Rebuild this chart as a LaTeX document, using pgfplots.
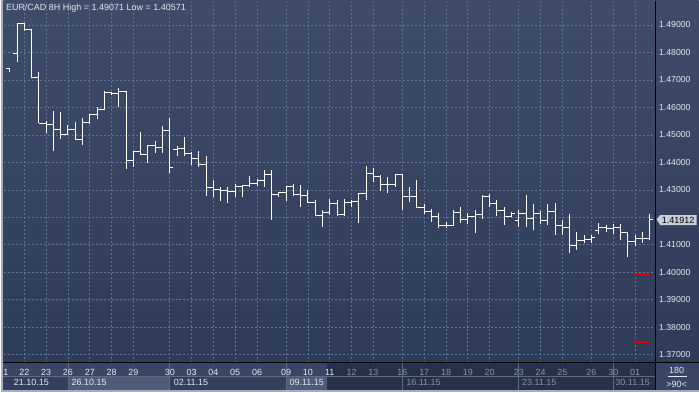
\documentclass[border=0pt]{standalone}
\usepackage{fontspec}
\setmainfont{Liberation Sans}
\usepackage{pgfplots}
\usepackage{pgfplotstable}
\pgfplotsset{compat=1.18}
\definecolor{bgtop}{RGB}{62,76,106}
\definecolor{bgbot}{RGB}{46,60,90}
\definecolor{gridc}{RGB}{98,116,150}
\definecolor{framec}{RGB}{165,174,190}
\definecolor{bandc}{RGB}{56,70,100}
\definecolor{boxa}{RGB}{50,64,92}
\definecolor{boxb}{RGB}{78,92,120}
\definecolor{darkc}{RGB}{38,48,70}
\definecolor{sepc}{RGB}{92,106,132}
\definecolor{dimtext}{RGB}{138,148,168}
\definecolor{labtext}{RGB}{228,232,240}
\definecolor{redm}{RGB}{220,0,0}
\definecolor{pricebox}{RGB}{200,204,212}

\pgfplotstableread{
x o h l c
0 1.47400 1.47425 1.47302 nan
1 1.47971 1.49036 1.47665 1.49036
2 1.49036 1.49071 1.48782 1.48818
3 1.48818 1.48830 1.47084 1.47084
4 1.47084 1.47302 1.45425 1.45425
5 1.45425 1.45509 1.45062 1.45389
6 1.45389 1.45873 1.44418 1.45207
7 1.45207 1.45847 1.44855 1.45025
8 1.45025 1.45364 1.45000 1.45182
9 1.45182 1.45462 1.44818 1.44844
10 1.44844 1.45607 1.44636 1.45462
11 1.45462 1.45764 1.45389 1.45727
12 1.45727 1.46029 1.45571 1.45909
13 1.45909 1.46600 1.45909 1.46553
14 1.46553 1.46575 1.46455 1.46502
15 1.46502 1.46720 1.46029 1.46575
16 1.46575 1.46600 1.43764 1.44065
17 1.44065 1.44418 1.43847 1.44393
18 1.44393 1.45098 1.44273 1.44298
19 1.44298 1.44636 1.43971 1.44611
20 1.44611 1.44782 1.44335 1.44538
21 1.44538 1.45327 1.44335 1.45164
22 1.45164 1.45607 1.43607 1.43818
23 1.44455 1.44600 1.44218 1.44516
24 1.44516 1.44927 1.44218 1.44335
25 1.44335 1.44393 1.43909 1.44153
26 1.44153 1.44429 1.43825 1.43938
27 1.43938 1.44236 1.42782 1.43098
28 1.43098 1.43364 1.42735 1.43000
29 1.43000 1.43098 1.42611 1.42975
30 1.42975 1.43098 1.42538 1.42927
31 1.42927 1.43218 1.42735 1.43120
32 1.43120 1.43182 1.42735 1.43145
33 1.43145 1.43509 1.43098 1.43218
34 1.43218 1.43389 1.43145 1.43327
35 1.43327 1.43727 1.43120 1.43545
36 1.43545 1.43727 1.41909 1.42836
37 1.42836 1.42938 1.42735 1.42902
38 1.42902 1.43145 1.42611 1.43120
39 1.43120 1.43200 1.42782 1.42829
40 1.42829 1.43182 1.42364 1.42800
41 1.42800 1.42982 1.42516 1.42553
42 1.42553 1.42618 1.42036 1.42073
43 1.42073 1.42273 1.41655 1.42182
44 1.42182 1.42673 1.42102 1.42516
45 1.42516 1.42618 1.42036 1.42102
46 1.42102 1.42662 1.42055 1.42527
47 1.42527 1.42636 1.42371 1.42564
48 1.42564 1.42873 1.41811 1.42855
49 1.42855 1.43873 1.42618 1.43582
50 1.43582 1.43789 1.43302 1.43495
51 1.43495 1.43535 1.42949 1.43207
52 1.43207 1.43465 1.42891 1.43182
53 1.43182 1.43582 1.43109 1.43575
54 1.43575 1.43582 1.42273 1.42756
55 1.42756 1.43109 1.42575 1.42756
56 1.42756 1.43364 1.42338 1.42356
57 1.42356 1.42491 1.42120 1.42200
58 1.42200 1.42320 1.41829 1.42029
59 1.42029 1.42142 1.41607 1.41709
60 1.41709 1.41818 1.41618 1.41709
61 1.41709 1.42273 1.41676 1.42182
62 1.42182 1.42382 1.41789 1.41920
63 1.41920 1.42175 1.41753 1.42029
64 1.42029 1.42273 1.41425 1.42091
65 1.42091 1.42818 1.41945 1.42775
66 1.42775 1.42836 1.42364 1.42516
67 1.42516 1.42636 1.42055 1.42258
68 1.42258 1.42371 1.41727 1.42029
69 1.42029 1.42211 1.42007 1.42127
70 1.41884 1.42273 1.41655 1.42127
71 1.42127 1.42818 1.41636 1.41971
72 1.41971 1.42491 1.41545 1.42138
73 1.42138 1.42236 1.41745 1.41884
74 1.41884 1.42469 1.41727 1.42225
75 1.42225 1.42527 1.41364 1.41691
76 1.41691 1.41909 1.41364 1.41644
77 1.41644 1.42127 1.40720 1.40985
78 1.40985 1.41484 1.40818 1.41167
79 1.41167 1.41364 1.41062 1.41207
80 1.41207 1.41364 1.41084 1.41280
81 1.41520 1.41789 1.41400 1.41644
82 1.41644 1.41727 1.41484 1.41607
83 1.41607 1.41764 1.41400 1.41644
84 1.41644 1.41764 1.41182 1.41447
85 1.41447 1.41484 1.40571 1.41120
86 1.41120 1.41364 1.40964 1.41244
87 1.41244 1.41484 1.41084 1.41244
88 1.41244 1.42127 1.41182 1.41912
}\ohlc

\pgfplotstableread{
x y
85.9 1.39955
87.9 1.39955
}\redA
\pgfplotstableread{
x y
85.9 1.37484
87.9 1.37484
}\redB

\begin{document}
\begin{tikzpicture}[x=1pt,y=1pt]
% frame and background
\fill[framec] (0,0) rectangle (699,393);
\shade[top color=bgtop, bottom color=bgbot] (2.5,29) rectangle (699,392);
% bottom band
\fill[bandc] (2.5,2.5) rectangle (699,29.5);
\fill[boxa] (2.5,2.5) rectangle (67.3,16);
\fill[boxb] (67.3,2.5) rectangle (169.2,16);
\fill[boxa] (169.2,2.5) rectangle (285.8,16);
\fill[boxb] (285.8,2.5) rectangle (327,16);
\fill[darkc] (327,2.5) rectangle (656,29.5);
\foreach \sx in {67.3,169.2,285.8,402.3,518.9,613.6}{
  \draw[sepc, line width=0.8pt] (\sx,2.5) -- (\sx,29.5);
}
\draw[sepc, line width=0.6pt] (2.5,16) -- (656,16);

\begin{axis}[
  at={(3pt,29.5pt)}, anchor=south west,
  scale only axis, width=653pt, height=361.5pt,
  xmin=-0.824, xmax=88.82,
  ymin=1.367091, ymax=1.498364,
  axis line style={draw=none},
  tick style={draw=none},
  major tick length=0pt,
  ymajorgrids=true,
  grid style={draw=gridc, line width=0.75pt, dash pattern=on 2pt off 2pt},
  ytick={1.37,1.38,1.39,1.40,1.41,1.42,1.43,1.44,1.45,1.46,1.47,1.48,1.49},
  yticklabels={1.37000,1.38000,1.39000,1.40000,1.41000,{},1.43000,1.44000,1.45000,1.46000,1.47000,1.48000,1.49000},
  yticklabel pos=right,
  yticklabel style={font=\fontsize{8.7}{10}\selectfont, text=labtext, anchor=west, xshift=0pt},
  xtick={-0.55,2,5,8,11,14,17,22,25,28,31,34,38,41,44,47,50,54,57,60,63,66,70,73,76,80,83,86},
  xticklabels={1,22,23,26,27,28,29,30,03,04,05,06,09,10,11,\textcolor{dimtext}{12},\textcolor{dimtext}{13},\textcolor{dimtext}{16},\textcolor{dimtext}{17},\textcolor{dimtext}{18},\textcolor{dimtext}{19},\textcolor{dimtext}{20},\textcolor{dimtext}{23},\textcolor{dimtext}{24},\textcolor{dimtext}{25},\textcolor{dimtext}{26},\textcolor{dimtext}{30},\textcolor{dimtext}{01}},
  xticklabel style={font=\fontsize{9}{10}\selectfont, text=labtext, anchor=center, yshift=-9.5pt},
  extra x ticks={2,5,8,11,14,17,22,25,28,31,34,38,41,44,47,50,54,57,60,63,66,70,73,76,80,83,86},
  extra x tick labels={},
  extra x tick style={grid=major},
  clip=true,
]
% high-low verticals
\addplot[draw=none, mark=none, forget plot,
  error bars/.cd, y dir=plus, y explicit, error mark=none,
  error bar style={draw=white, line width=1pt, solid}]
  table[x=x, y=l, y error expr=\thisrow{h}-\thisrow{l}] {\ohlc};
% open ticks (left)
\addplot[draw=none, mark=none, forget plot,
  error bars/.cd, x dir=plus, x fixed=0.5, error mark=none,
  error bar style={draw=white, line width=1pt, solid}]
  table[x expr=\thisrow{x}-0.5, y=o] {\ohlc};
% close ticks (right)
\addplot[draw=none, mark=none, forget plot,
  error bars/.cd, x dir=plus, x fixed=0.5, error mark=none,
  error bar style={draw=white, line width=1pt, solid}]
  table[x=x, y=c] {\ohlc};
% order markers
\addplot[draw=redm, line width=2pt, mark=none] table[x=x,y=y] {\redA};
\addplot[draw=redm, line width=2pt, mark=none] table[x=x,y=y] {\redB};
\end{axis}

% axis lines
\draw[black, line width=1pt] (656,2.5) -- (656,392);
\draw[black, line width=1pt] (2.5,29.5) -- (699,29.5);

% title
\node[anchor=west, text=labtext, font=\fontsize{9}{10}\selectfont, inner sep=0pt] at (5,385) {EUR/CAD 8H High = 1.49071 Low = 1.40571};

% date labels
\begin{scope}[font=\fontsize{9}{10}\selectfont, inner sep=0pt]
\node[anchor=center, text=labtext] at (30.5,9.5) {21.10.15};
\node[anchor=center, text=labtext] at (88.5,9.5) {26.10.15};
\node[anchor=center, text=labtext] at (190.5,9.5) {02.11.15};
\node[anchor=center, text=labtext] at (306.5,9.5) {09.11.15};
\node[anchor=center, text=dimtext] at (423.5,9.5) {16.11.15};
\node[anchor=center, text=dimtext] at (539.5,9.5) {23.11.15};
\node[anchor=center, text=dimtext] at (633,9.5) {30.11.15};
% right panel bottom
\node[anchor=center, text=labtext] at (677,21.5) {180};
\node[anchor=center, text=labtext] at (677,8) {>90<};
\end{scope}
\draw[labtext, line width=0.6pt] (668,15.5) -- (687,15.5);

% current price label
\fill[pricebox] (657,173.5) -- (660.5,177.5) -- (697,177.5) -- (697,167.5) -- (660.5,167.5) -- cycle;
\node[anchor=center, text=black, font=\fontsize{9}{10}\selectfont, inner sep=0pt] at (678.5,172.5) {1.41912};
\end{tikzpicture}
\end{document}
